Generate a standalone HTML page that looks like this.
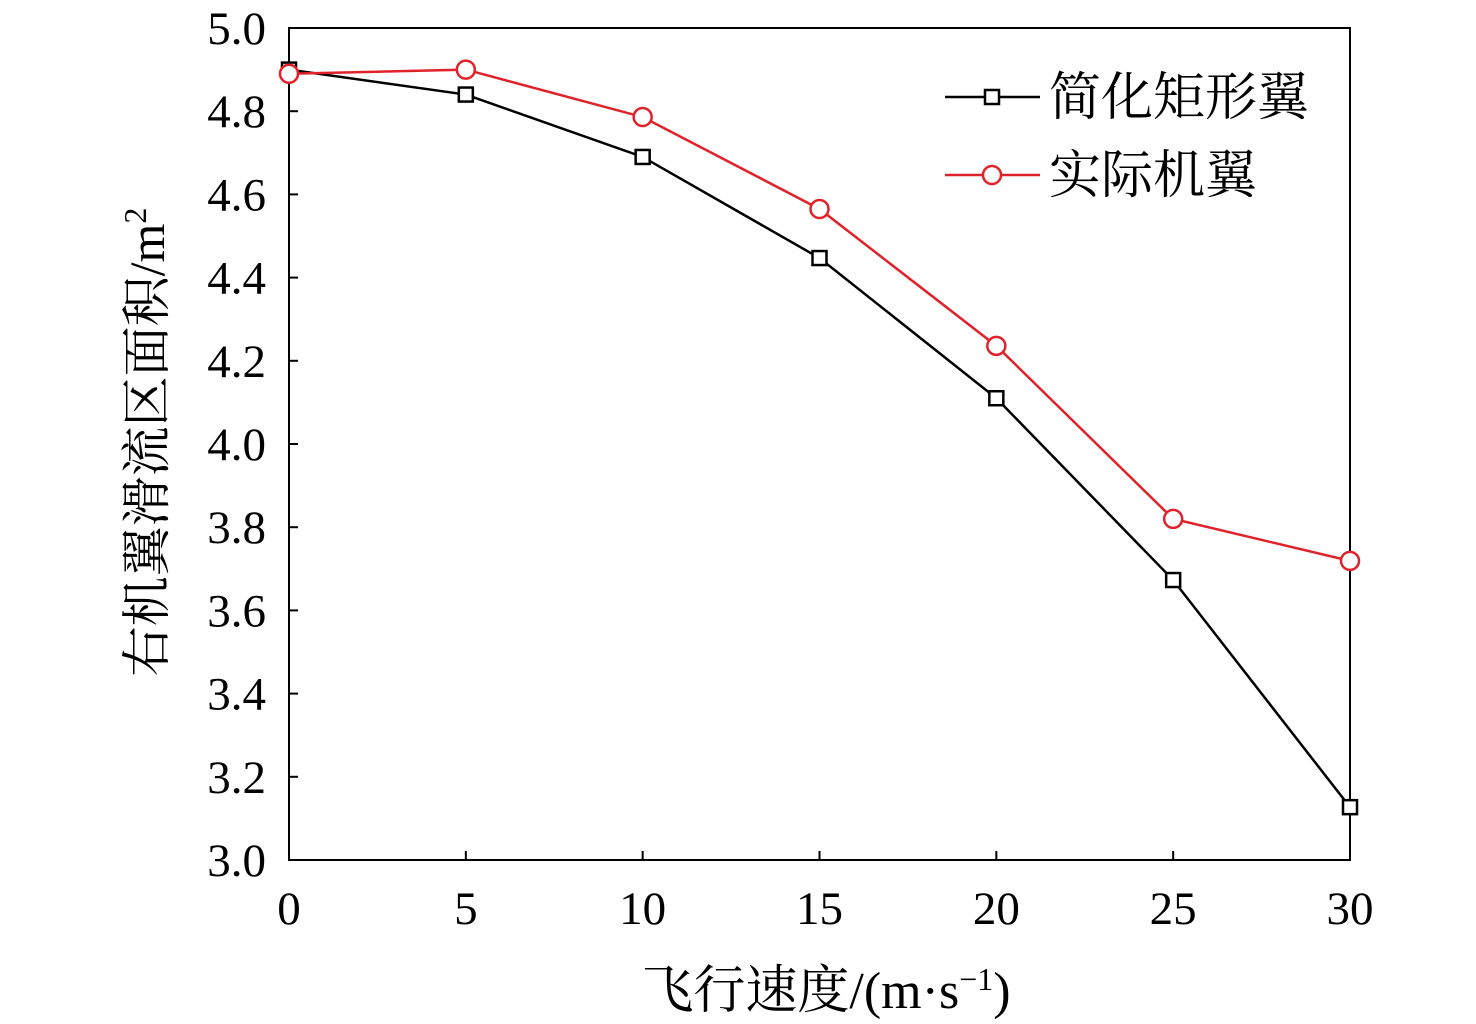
<!DOCTYPE html>
<html><head><meta charset="utf-8"><style>
html,body{margin:0;padding:0;background:#fff;}
svg{display:block;}
text{font-family:"Liberation Serif","Noto Serif CJK SC","Noto Sans CJK SC",serif;}
</style></head><body>
<svg id="chart" width="1476" height="1024" viewBox="0 0 1476 1024" xmlns="http://www.w3.org/2000/svg"></svg>
<script>
const categories=[0,5,10,15,20,25,30];
const rectWing=[4.90,4.84,4.69,4.447,4.11,3.673,3.127];
const realWing=[4.89,4.90,4.786,4.565,4.236,3.82,3.719];
const yTicks=["3.0","3.2","3.4","3.6","3.8","4.0","4.2","4.4","4.6","4.8","5.0"];
const xTicks=["0","5","10","15","20","25","30"];
const L=289,R=1350,T=28,B=860;
const xs=v=>L+(v-0)/(30-0)*(R-L);
const ys=v=>B-(v-3)/(5-3)*(B-T);
const svg=document.getElementById('chart');
const NS="http://www.w3.org/2000/svg";
function mk(tag,attrs,parent){const e=document.createElementNS(NS,tag);for(const k in attrs)e.setAttribute(k,attrs[k]);(parent||svg).appendChild(e);return e;}
let frame=mk('rect',{x:L,y:T,width:R-L,height:B-T,fill:'none',stroke:'#000','stroke-width':2});


yTicks.forEach(t=>{const y=ys(parseFloat(t));
 const tk=mk('line',{x1:L,x2:L+9,y1:y,y2:y,stroke:'#000','stroke-width':2});
 
 
 const tx=mk('text',{x:L-23,y:y+16,'text-anchor':'end','font-size':47});tx.textContent=t;
 
 
});
xTicks.forEach(t=>{const x=xs(parseFloat(t));
 const tk=mk('line',{x1:x,x2:x,y1:B,y2:B-9,stroke:'#000','stroke-width':2});
 
 
 const tx=mk('text',{x:x,y:B+64,'text-anchor':'middle','font-size':47});tx.textContent=t;
 
 
});
function series(vals,color,marker,name){
 const g=mk('g',{});
 
 
 const pts=vals.map((v,i)=>xs(categories[i])+','+ys(v)).join(' ');
 const pl=mk('polyline',{points:pts,fill:'none',stroke:color,'stroke-width':2.5},g);
 
 
 vals.forEach((v,i)=>{const x=xs(categories[i]),y=ys(v);let m;
  if(marker==='sq')m=mk('rect',{x:x-7,y:y-7,width:14,height:14,fill:'#fff',stroke:color,'stroke-width':2.5},g);
  else m=mk('circle',{cx:x,cy:y,r:9,fill:'#fff',stroke:color,'stroke-width':2.5},g);
  
  
 });
}
series(rectWing,'#000','sq','series-rect-wing');
series(realWing,'#e0222a','ci','series-real-wing');
function legend(y,color,marker,label,name){
 const g=mk('g',{});
 
 
 mk('line',{x1:945,x2:1040,y1:y,y2:y,stroke:color,'stroke-width':2.5},g);
 if(marker==='sq')mk('rect',{x:985,y:y-7,width:14,height:14,fill:'#fff',stroke:color,'stroke-width':2.5},g);
 else mk('circle',{cx:992,cy:y,r:9,fill:'#fff',stroke:color,'stroke-width':2.5},g);
 const t=mk('text',{x:1049,y:y+18,'font-size':52},g);t.textContent=label;
}
legend(97,'#000','sq','简化矩形翼','legend-entry-rect-wing');
legend(175,'#e0222a','ci','实际机翼','legend-entry-real-wing');
const yt=mk('text',{x:0,y:0,'font-size':50,'text-anchor':'middle',transform:'translate(164,442) rotate(-90)'});
yt.innerHTML='右机翼滑流区面积/m<tspan dy="-18" font-size="32">2</tspan>';


const xt=mk('text',{x:826,y:1008,'font-size':52,'text-anchor':'middle'});
xt.innerHTML='飞行速度/(m·s<tspan dy="-18" font-size="32">−1</tspan><tspan dy="18">)</tspan>';


</script>
</body></html>
